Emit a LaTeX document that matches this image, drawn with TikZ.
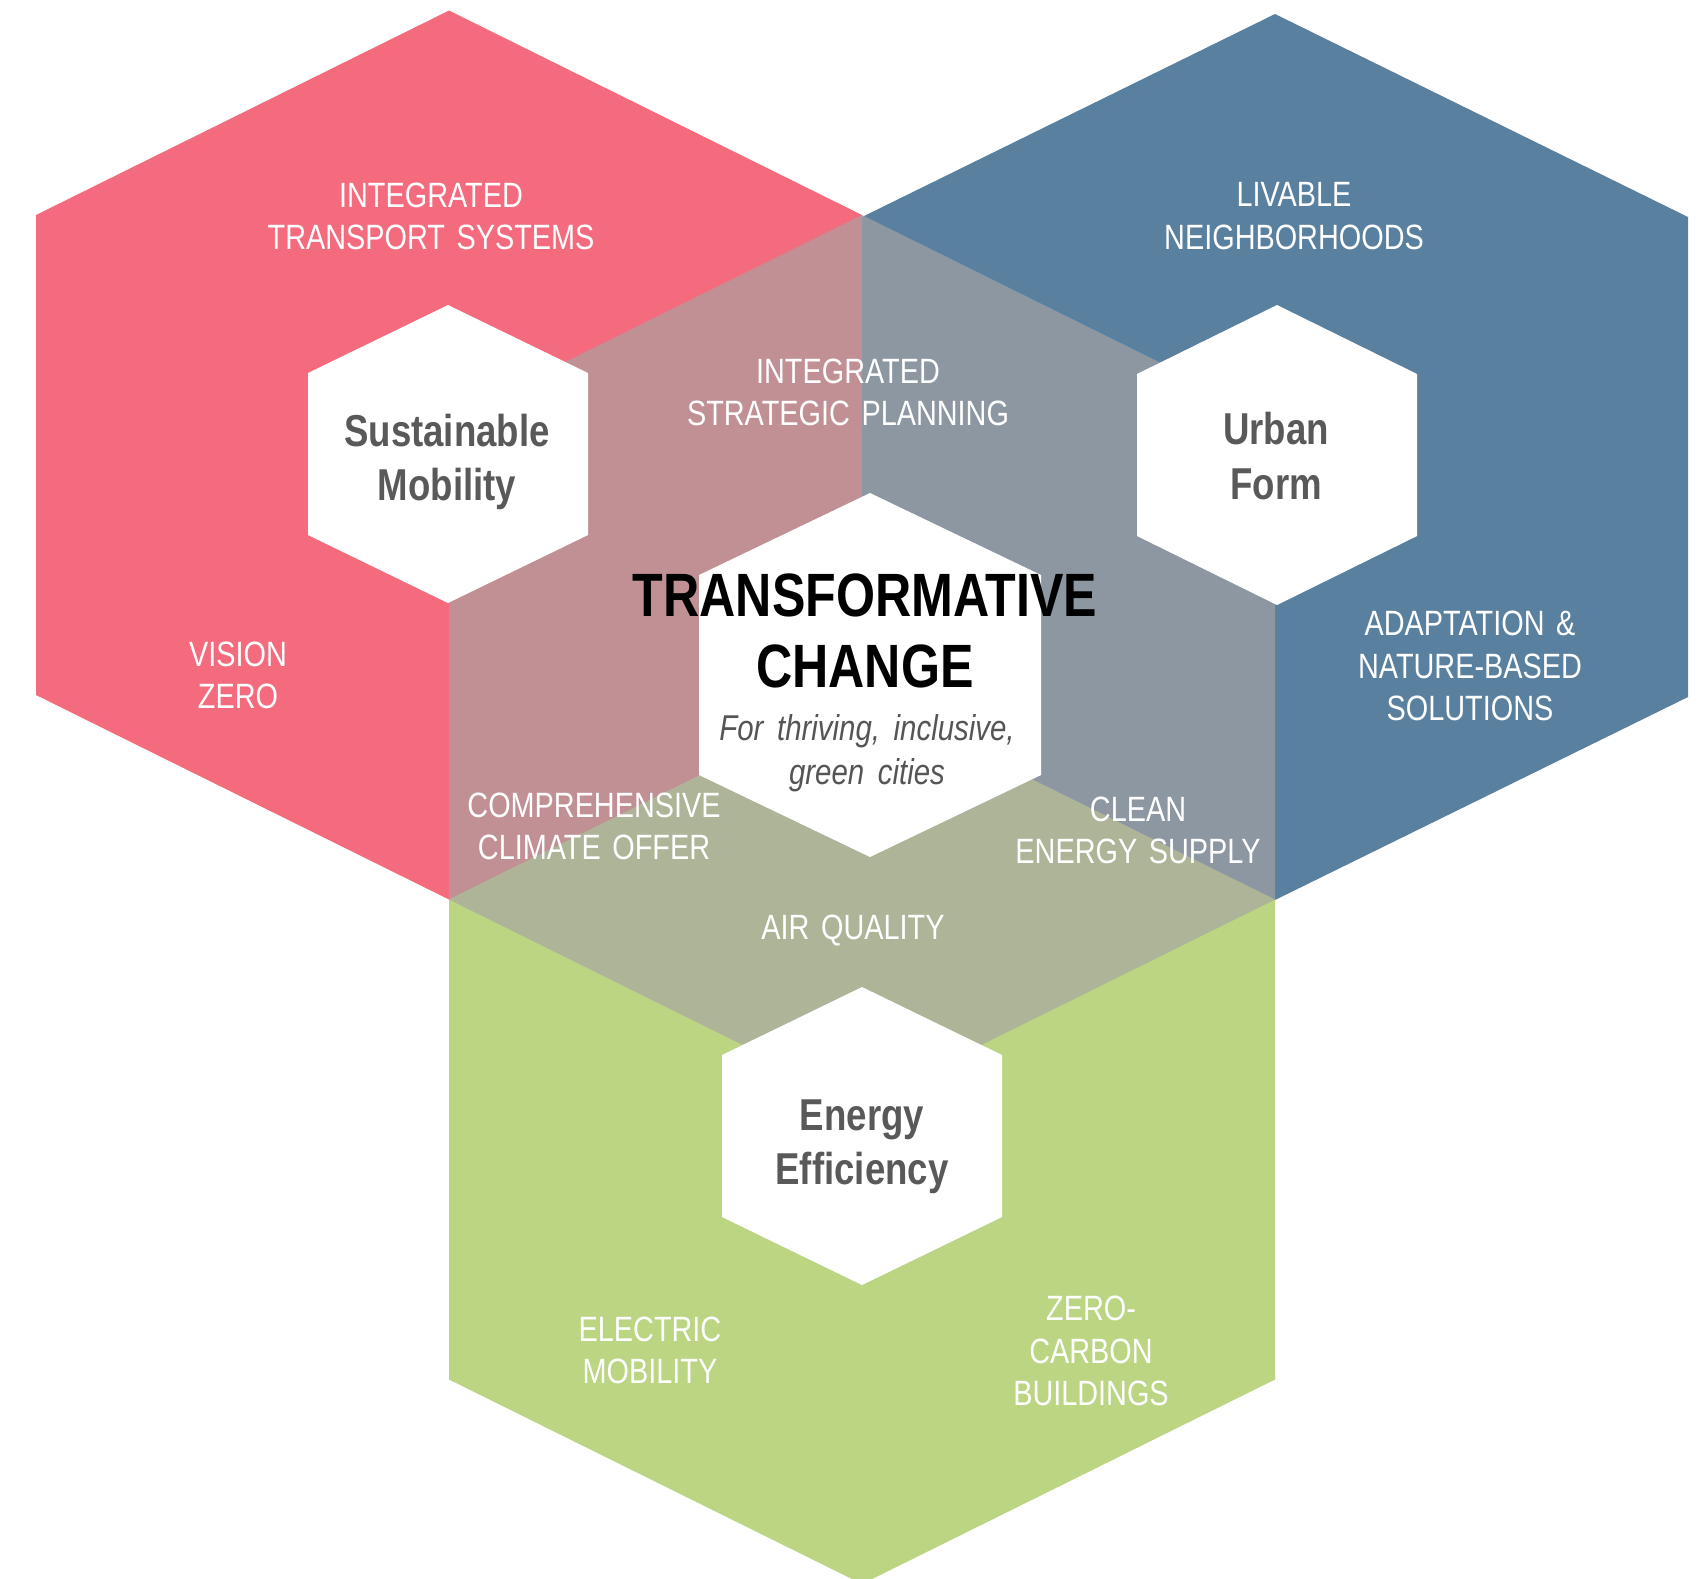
\documentclass[tikz,border=0pt]{standalone}
\usepackage{fontspec}
\setmainfont{Liberation Sans}[FakeStretch=0.82]
\usetikzlibrary{positioning}

\definecolor{mobred}{RGB}{243,107,125}
\definecolor{formblue}{RGB}{90,128,160}
\definecolor{energygreen}{RGB}{187,213,131}
\definecolor{overlaygray}{RGB}{166,164,162}
\definecolor{pillargray}{RGB}{89,89,89}
\definecolor{subgray}{RGB}{85,85,85}

% centre x, centre y, half width, half height, side offset
\newcommand{\hexpath}[5]{(#1,#2-#4) -- (#1+#3,#2-#5) -- (#1+#3,#2+#5) -- (#1,#2+#4) -- (#1-#3,#2+#5) -- (#1-#3,#2-#5) -- cycle}
\newcommand{\wordgap}[1]{\spaceskip #1\relax}

\begin{document}
\begin{tikzpicture}[
	x = 0.01cm, y = -0.01cm,
	topic/.style = {text=white, align=center, inner sep=0pt, font=\fontsize{10}{12}\selectfont\wordgap{0.33em}},
	pillar/.style = {text=pillargray, align=center, inner sep=0pt, font=\fontsize{12.7}{15.4}\selectfont\bfseries},
	title/.style = {text=black, align=center, inner sep=0pt, font=\fontsize{17.4}{20.4}\selectfont\bfseries},
	subtitle/.style = {text=subgray, align=center, inner sep=0pt, font=\fontsize{10.2}{12.4}\selectfont\itshape\wordgap{0.38em}}
	]
	\useasboundingbox (0,0) rectangle (1704,1578);
	\begin{scope}
	\clip (0,0) rectangle (1704,1578);
	\fill[mobred]      \hexpath{449}{455}{413}{444.5}{240};
	\fill[formblue]    \hexpath{1275}{457}{413}{443}{240};
	\fill[energygreen] \hexpath{862}{1139.5}{413}{444.5}{240};
	\fill[overlaygray, fill opacity=0.66] \hexpath{862}{659.5}{413}{444.5}{240};
	\end{scope}
	\fill[white] \hexpath{448}{454}{140}{149}{81};
	\fill[white] \hexpath{1277}{455}{140}{150}{81};
	\fill[white] \hexpath{862}{1136}{140}{149}{81};
	\fill[white] \hexpath{870}{675}{171}{182}{100};
	
	\node[topic] (transport)  at (431,216)  {INTEGRATED\\TRANSPORT SYSTEMS};
	\node[topic] (livable)    at (1294,216) {LIVABLE\\NEIGHBORHOODS};
	\node[topic] (planning)   at (848,392)  {INTEGRATED\\STRATEGIC PLANNING};
	\node[topic] (vision)     at (238,675)  {VISION\\ZERO};
	\node[topic] (adaptation) at (1470,666) {ADAPTATION \&\\NATURE-BASED\\SOLUTIONS};
	\node[topic] (climate)    at (594,826)  {COMPREHENSIVE\\CLIMATE OFFER};
	\node[topic] (clean)      at (1138,830) {CLEAN\\ENERGY SUPPLY};
	\node[topic] (air)        at (853,931)  {AIR QUALITY};
	\node[topic] (electric)   at (650,1350) {ELECTRIC\\MOBILITY};
	\node[topic] (zerocarbon) at (1091,1351) {ZERO-\\CARBON\\BUILDINGS};
	
	\node[pillar] (mobility)   at (447,462)  {Sustainable\\Mobility};
	\node[pillar] (form)       at (1276,456) {Urban\\Form};
	\node[pillar] (efficiency) at (862,1147) {Energy\\Efficiency};
	
	\node[title] (change)      at (865,631)  {TRANSFORMATIVE\\CHANGE};
	\node[subtitle] (cities)   at (867,753)  {For thriving, inclusive,\\green cities};
\end{tikzpicture}
\end{document}
